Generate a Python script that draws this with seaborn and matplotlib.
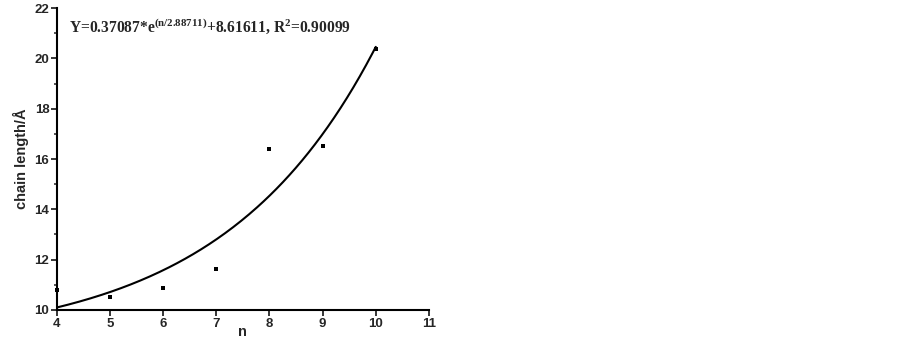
import numpy as np
import pandas as pd
import matplotlib
matplotlib.use('Agg')
import matplotlib.pyplot as plt
from matplotlib.ticker import MultipleLocator
import seaborn as sns

# measured points
n_values = [4, 5, 6, 7, 8, 9, 10]
chain_length = [10.80, 10.53, 10.89, 11.62, 16.38, 16.52, 20.37]

# exponential fit shown on the chart
fit_a = 0.37087
fit_t = 2.88711
fit_c = 8.61611

x_ticks = [4, 5, 6, 7, 8, 9, 10, 11]
y_ticks = [10, 12, 14, 16, 18, 20, 22]

sns.set_style('ticks')
plt.rcParams['font.family'] = ['Liberation Sans', 'DejaVu Sans']
plt.rcParams['mathtext.fontset'] = 'custom'
plt.rcParams['mathtext.rm'] = 'Liberation Serif:bold'
plt.rcParams['mathtext.bf'] = 'Liberation Serif:bold'

pts = pd.DataFrame({'n': n_values, 'len': chain_length})
xs = np.linspace(4, 10, 200)
fit = pd.DataFrame({'n': xs, 'len': fit_a * np.exp(xs / fit_t) + fit_c})

fig = plt.figure(figsize=(9.03, 3.38), dpi=100)
ax = fig.add_axes([0.063, 0.083, 0.412, 0.893])

sns.lineplot(data=fit, x='n', y='len', color='black', linewidth=1.5, ax=ax)
sns.scatterplot(data=pts, x='n', y='len', marker='s', s=10, color='black',
                edgecolor='black', linewidth=0, ax=ax, clip_on=False, zorder=3)

ax.set_xlim(4, 11)
ax.set_ylim(10, 22)
ax.set_xticks(x_ticks)
ax.set_yticks(y_ticks)
ax.yaxis.set_minor_locator(MultipleLocator(1))
ax.tick_params(axis='both', which='major', direction='out', length=4, width=1.3,
               labelsize=9.5, pad=1.5)
ax.tick_params(axis='y', which='minor', direction='out', length=2.5, width=1.1)
for lab in ax.get_xticklabels() + ax.get_yticklabels():
    lab.set_fontweight('bold')

sns.despine(ax=ax)
for side in ['left', 'bottom']:
    ax.spines[side].set_linewidth(1.5)
    ax.spines[side].set_color('black')

ax.set_xlabel('n', fontsize=10.5, fontweight='bold', labelpad=-3)
ax.set_ylabel('chain length/Å', fontsize=10.5, fontweight='bold', labelpad=4)

ax.text(0.032, 0.975,
        r'Y=0.37087*e$^{\mathbf{(n/2.88711)}}$+8.61611, $\mathbf{R}^{\mathbf{2}}$=0.90099',
        transform=ax.transAxes, fontsize=11.2, fontweight='bold',
        family='Liberation Serif', va='top', ha='left')

fig.savefig('out.png', dpi=100)
